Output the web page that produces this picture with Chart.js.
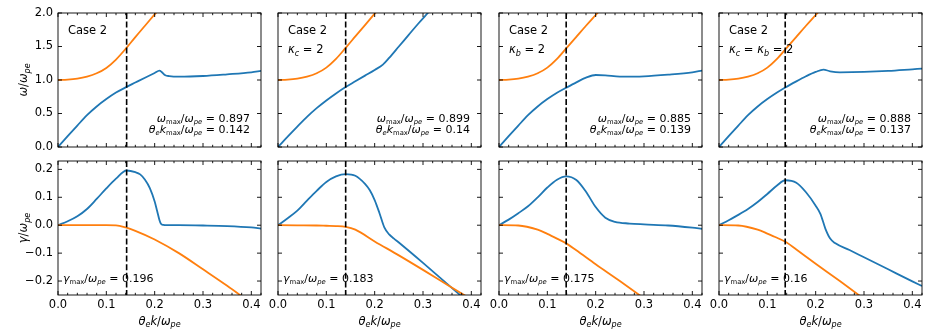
<!DOCTYPE html>
<html>
<head>
<meta charset="utf-8">
<script src="https://cdn.jsdelivr.net/npm/chart.js@4.4.1/dist/chart.umd.min.js"></script>
<style>
  body { margin: 0; background: #fff; }
  #fig { position: relative; width: 927px; height: 332px; overflow: hidden; }
  #fig canvas { position: absolute; }
</style>
</head>
<body>
<div id="fig"></div>
<script>
// ---- data ----
const kMax = [0.142, 0.14, 0.139, 0.137];
const omegaMaxText = ['0.897', '0.899', '0.885', '0.888'];
const kMaxText = ['0.142', '0.14', '0.139', '0.137'];
const gammaMaxText = ['0.196', '0.183', '0.175', '0.16'];

// orange branch, omega (shared k grid)
const kOrangeTop = [0, 0.02, 0.04, 0.06, 0.08, 0.10, 0.12, 0.14, 0.16, 0.18, 0.20, 0.22, 0.24];
const omegaOrange1 = [1.00, 1.005, 1.02, 1.05, 1.10, 1.18, 1.305, 1.465, 1.64, 1.81, 1.98, 2.15, 2.32];
const omegaOrange2 = [1.00, 1.005, 1.02, 1.05, 1.10, 1.185, 1.315, 1.48, 1.65, 1.82, 1.99, 2.16, 2.33];
const omegaOrange3 = [1.00, 1.005, 1.02, 1.05, 1.10, 1.185, 1.315, 1.48, 1.645, 1.81, 1.97, 2.13, 2.29];
const omegaOrange4 = [1.00, 1.005, 1.02, 1.05, 1.10, 1.185, 1.315, 1.48, 1.645, 1.81, 1.97, 2.13, 2.29];

// orange branch, gamma (shared k grid)
const kOrangeBot = [0, 0.04, 0.08, 0.10, 0.12, 0.14, 0.16, 0.20, 0.25, 0.30, 0.35, 0.40];
const gammaOrange1 = [0, 0, 0, 0, -0.0005, -0.008, -0.02, -0.051, -0.1, -0.158, -0.217, -0.28];
const gammaOrange2 = [0, -0.0005, -0.001, -0.002, -0.003, -0.006, -0.016, -0.058, -0.108, -0.16, -0.213, -0.266];
const gammaOrange3 = [0, -0.001, -0.016, -0.031, -0.048, -0.066, -0.09, -0.14, -0.2, -0.262, -0.325, -0.39];
const gammaOrange4 = [0, -0.001, -0.016, -0.03, -0.045, -0.062, -0.087, -0.138, -0.2, -0.264, -0.33, -0.39];

// blue branch, omega
const kOmegaB1 = [0, 0.02, 0.04, 0.06, 0.08, 0.10, 0.12, 0.142, 0.16, 0.18, 0.20, 0.21, 0.215, 0.222, 0.23, 0.25, 0.30, 0.35, 0.40, 0.42];
const omegaB1 = [0, 0.162, 0.32, 0.475, 0.605, 0.715, 0.812, 0.897, 0.962, 1.034, 1.105, 1.14, 1.115, 1.07, 1.058, 1.05, 1.06, 1.085, 1.115, 1.135];
const kOmegaB2 = [0, 0.02, 0.04, 0.06, 0.08, 0.10, 0.12, 0.14, 0.16, 0.18, 0.20, 0.217, 0.23, 0.25, 0.27, 0.29, 0.31, 0.33];
const omegaB2 = [0, 0.155, 0.305, 0.45, 0.58, 0.695, 0.80, 0.895, 0.98, 1.065, 1.15, 1.23, 1.33, 1.50, 1.67, 1.84, 2.0, 2.16];
const kOmegaB3 = [0, 0.02, 0.04, 0.06, 0.08, 0.10, 0.12, 0.139, 0.16, 0.18, 0.20, 0.22, 0.25, 0.30, 0.35, 0.40, 0.42];
const omegaB3 = [0, 0.162, 0.32, 0.475, 0.605, 0.715, 0.81, 0.885, 0.965, 1.035, 1.075, 1.07, 1.05, 1.055, 1.08, 1.115, 1.14];
const kOmegaB4 = [0, 0.02, 0.04, 0.06, 0.08, 0.10, 0.12, 0.137, 0.16, 0.18, 0.20, 0.216, 0.23, 0.25, 0.30, 0.35, 0.40, 0.42];
const omegaB4 = [0, 0.162, 0.32, 0.475, 0.605, 0.715, 0.812, 0.888, 0.98, 1.055, 1.12, 1.155, 1.13, 1.115, 1.12, 1.135, 1.16, 1.17];

// blue branch, gamma
const kGammaB1 = [0, 0.02, 0.04, 0.06, 0.08, 0.10, 0.12, 0.142, 0.16, 0.17, 0.18, 0.19, 0.20, 0.205, 0.21, 0.213, 0.218, 0.225, 0.25, 0.30, 0.35, 0.40, 0.42];
const gammaB1 = [0, 0.014, 0.032, 0.058, 0.094, 0.132, 0.167, 0.196, 0.19, 0.182, 0.163, 0.133, 0.085, 0.052, 0.018, 0.005, 0.001, 0.0, 0.0, -0.001, -0.003, -0.008, -0.012];
const kGammaB2 = [0, 0.02, 0.04, 0.06, 0.08, 0.10, 0.12, 0.14, 0.16, 0.18, 0.19, 0.20, 0.21, 0.22, 0.23, 0.24, 0.25, 0.30, 0.35, 0.40];
const gammaB2 = [0, 0.025, 0.052, 0.088, 0.123, 0.155, 0.175, 0.183, 0.177, 0.148, 0.125, 0.09, 0.043, -0.008, -0.033, -0.048, -0.062, -0.135, -0.21, -0.285];
const kGammaB3 = [0, 0.02, 0.04, 0.06, 0.08, 0.10, 0.12, 0.139, 0.16, 0.18, 0.20, 0.22, 0.24, 0.27, 0.30, 0.35, 0.40, 0.42];
const gammaB3 = [0, 0.02, 0.043, 0.068, 0.1, 0.135, 0.163, 0.175, 0.162, 0.12, 0.065, 0.027, 0.012, 0.006, 0.003, -0.001, -0.009, -0.013];
const kGammaB4 = [0, 0.02, 0.04, 0.06, 0.08, 0.10, 0.12, 0.137, 0.16, 0.18, 0.20, 0.21, 0.22, 0.23, 0.24, 0.27, 0.30, 0.35, 0.40, 0.42];
const gammaB4 = [0, 0.018, 0.037, 0.058, 0.083, 0.112, 0.142, 0.161, 0.152, 0.118, 0.07, 0.04, -0.012, -0.048, -0.064, -0.089, -0.115, -0.158, -0.201, -0.218];

const BLUE = '#1f77b4';
const ORANGE = '#ff7f0e';
const FONT = '"DejaVu Sans", sans-serif';
const EQ = ' = ';

// ---- layout of the 2x4 grid (plot areas, css px) ----
const COL_LEFT = [58, 278, 499, 719];
const ROW_TOP = [13, 161];
const PW = 203, PH = 134;

const pts = (ks, vs) => ks.map((k, i) => ({ x: k, y: vs[i] }));
const fmt = v => (Math.abs(v) < 1e-9 ? 0 : v).toFixed(1).replace('-', '\u2212');

// draw a mathtext-like run: [text, kind] with kind n / i / sn / si
function rich(ctx, parts, x, y, size, align, subScale = 0.7) {
  const fontFor = k => (k.indexOf('i') >= 0 ? 'italic ' : '') + (k[0] === 's' ? size * subScale : size) + 'px ' + FONT;
  let total = 0;
  const widths = parts.map(([t, k]) => {
    ctx.font = fontFor(k);
    const w = ctx.measureText(t).width;
    total += w;
    return w;
  });
  let cx = align === 'right' ? x - total : align === 'center' ? x - total / 2 : x;
  ctx.textAlign = 'left';
  ctx.textBaseline = 'alphabetic';
  parts.forEach(([t, k], i) => {
    ctx.font = fontFor(k);
    ctx.fillText(t, cx, k[0] === 's' ? y + size * 0.22 : y);
    cx += widths[i];
  });
}

const panelPlugin = {
  id: 'panel',
  afterDatasetsDraw(chart, args, o) {
    const { ctx, chartArea: a, scales: { x, y } } = chart;
    ctx.save();
    // dashed line at k_max
    const xm = x.getPixelForValue(o.kMax);
    ctx.strokeStyle = '#000';
    ctx.lineWidth = 1.6;
    ctx.setLineDash([6, 2.6]);
    ctx.beginPath();
    ctx.moveTo(xm, a.top);
    ctx.lineTo(xm, a.bottom);
    ctx.stroke();
    ctx.setLineDash([]);
    // frame and inward ticks on all four sides
    ctx.lineWidth = 0.9;
    ctx.strokeRect(a.left, a.top, a.width, a.height);
    ctx.beginPath();
    for (let i = 0; i * 0.02 <= x.max + 1e-9; i++) {
      const p = x.getPixelForValue(i * 0.02);
      const len = i % 5 === 0 ? 4 : 2.2;
      ctx.moveTo(p, a.bottom); ctx.lineTo(p, a.bottom - len);
      ctx.moveTo(p, a.top); ctx.lineTo(p, a.top + len);
    }
    y.ticks.forEach(t => {
      const p = y.getPixelForValue(t.value);
      ctx.moveTo(a.left, p); ctx.lineTo(a.left + 4, p);
      ctx.moveTo(a.right, p); ctx.lineTo(a.right - 4, p);
    });
    ctx.stroke();
    ctx.restore();
  },
  afterDraw(chart, args, o) {
    const { ctx, chartArea: a } = chart;
    ctx.save();
    ctx.fillStyle = '#000';
    if (o.row === 0) {
      rich(ctx, [['Case 2', 'n']], a.left + 10, a.top + 21, 11.5, 'left');
      if (o.sub) rich(ctx, o.sub, a.left + 10, a.top + 40, 11.5, 'left');
      rich(ctx, [['ω', 'i'], ['max', 'sn'], ['/', 'n'], ['ω', 'i'], ['pe', 'si'], [EQ + omegaMaxText[o.col], 'n']],
        a.right - 11, a.bottom - 25.5, 11, 'right', 0.62);
      rich(ctx, [['θ', 'i'], ['e', 'si'], ['k', 'i'], ['max', 'sn'], ['/', 'n'], ['ω', 'i'], ['pe', 'si'], [EQ + kMaxText[o.col], 'n']],
        a.right - 11, a.bottom - 14, 11, 'right', 0.62);
    } else {
      rich(ctx, [['γ', 'i'], ['max', 'sn'], ['/', 'n'], ['ω', 'i'], ['pe', 'si'], [EQ + gammaMaxText[o.col], 'n']],
        a.left + 5, a.bottom - 13.5, 11, 'left', 0.62);
      rich(ctx, [['θ', 'i'], ['e', 'si'], ['k', 'i'], ['/', 'n'], ['ω', 'i'], ['pe', 'si']],
        (a.left + a.right) / 2, a.bottom + 29.5, 11.5, 'center');
    }
    if (o.col === 0) {
      ctx.translate(27, (a.top + a.bottom) / 2);
      ctx.rotate(-Math.PI / 2);
      const sym = o.row === 0 ? 'ω' : 'γ';
      rich(ctx, [[sym, 'i'], ['/', 'n'], ['ω', 'i'], ['pe', 'si']], 0, 0, 11.5, 'center');
    }
    ctx.restore();
  }
};

const subLabels = [
  null,
  [['κ', 'i'], ['c', 'si'], [EQ + '2', 'n']],
  [['κ', 'i'], ['b', 'si'], [EQ + '2', 'n']],
  [['κ', 'i'], ['c', 'si'], [EQ, 'n'], ['κ', 'i'], ['b', 'si'], [EQ + '2', 'n']]
];

const panels = [
  { row: 0, col: 0, ko: kOrangeTop, vo: omegaOrange1, kb: kOmegaB1, vb: omegaB1 },
  { row: 0, col: 1, ko: kOrangeTop, vo: omegaOrange2, kb: kOmegaB2, vb: omegaB2 },
  { row: 0, col: 2, ko: kOrangeTop, vo: omegaOrange3, kb: kOmegaB3, vb: omegaB3 },
  { row: 0, col: 3, ko: kOrangeTop, vo: omegaOrange4, kb: kOmegaB4, vb: omegaB4 },
  { row: 1, col: 0, ko: kOrangeBot, vo: gammaOrange1, kb: kGammaB1, vb: gammaB1 },
  { row: 1, col: 1, ko: kOrangeBot, vo: gammaOrange2, kb: kGammaB2, vb: gammaB2 },
  { row: 1, col: 2, ko: kOrangeBot, vo: gammaOrange3, kb: kGammaB3, vb: gammaB3 },
  { row: 1, col: 3, ko: kOrangeBot, vo: gammaOrange4, kb: kGammaB4, vb: gammaB4 }
];

const fig = document.getElementById('fig');

function makePanel(p) {
  const padL = p.col === 0 ? 58 : 16, padR = 12;
  const padT = 12, padB = p.row === 0 ? 12 : 37;
  const yw = p.col === 0 ? 44 : 0;
  const xh = p.row === 1 ? 20 : 0;
  const w = PW + padL + padR, h = PH + padT + padB;
  const c = document.createElement('canvas');
  c.width = w; c.height = h;
  c.style.width = w + 'px'; c.style.height = h + 'px';
  c.style.left = (COL_LEFT[p.col] - padL) + 'px';
  c.style.top = (ROW_TOP[p.row] - padT) + 'px';
  fig.appendChild(c);

  const tickFont = { family: FONT, size: 11.5 };
  new Chart(c, {
    type: 'line',
    data: {
      datasets: [
        { data: pts(p.ko, p.vo), borderColor: ORANGE },
        { data: pts(p.kb, p.vb), borderColor: BLUE }
      ]
    },
    options: {
      responsive: false,
      animation: false,
      events: [],
      layout: { padding: { left: padL - yw, right: padR, top: padT, bottom: padB - xh } },
      elements: {
        point: { radius: 0 },
        line: { borderWidth: 1.8, cubicInterpolationMode: 'monotone', fill: false }
      },
      plugins: {
        legend: { display: false },
        tooltip: { enabled: false },
        panel: { row: p.row, col: p.col, kMax: kMax[p.col], sub: subLabels[p.col] }
      },
      scales: {
        x: {
          type: 'linear', min: 0, max: 0.42,
          afterFit: s => { s.height = xh; },
          grid: { display: false, drawTicks: false },
          border: { display: false },
          ticks: { display: p.row === 1, stepSize: 0.1, includeBounds: false, padding: 3,
                   font: tickFont, color: '#000', callback: fmt }
        },
        y: {
          type: 'linear',
          min: p.row === 0 ? 0 : -0.25,
          max: p.row === 0 ? 2 : 0.23,
          afterFit: s => { s.width = yw; },
          grid: { display: false, drawTicks: false },
          border: { display: false },
          ticks: { display: p.col === 0, stepSize: p.row === 0 ? 0.5 : 0.1, includeBounds: false, padding: 5,
                   font: tickFont, color: '#000', callback: fmt }
        }
      }
    },
    plugins: [panelPlugin]
  });
}

panels.forEach(makePanel);
</script>
</body>
</html>
